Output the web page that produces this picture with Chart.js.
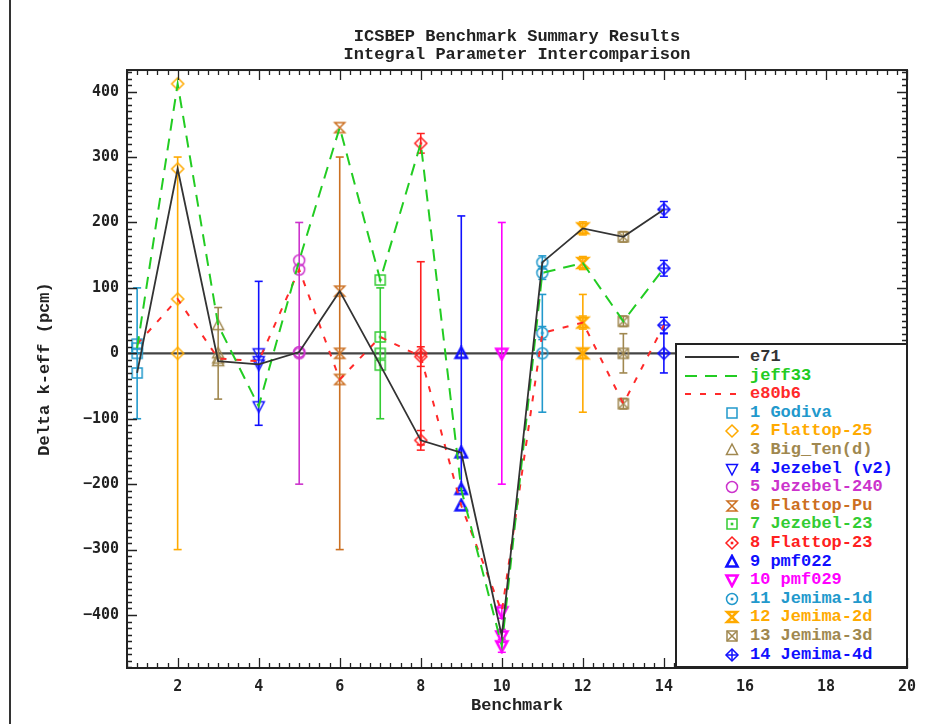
<!DOCTYPE html>
<html>
<head>
<meta charset="utf-8">
<title>ICSBEP Benchmark Summary Results</title>
<script src="https://cdn.jsdelivr.net/npm/chart.js"></script>
<style>
  html, body { margin: 0; padding: 0; background: #fff; }
  #wrap { position: relative; width: 947px; height: 724px; }
  #legend {
    position: absolute; left: 675px; top: 343px; width: 233px; height: 325px;
    box-sizing: border-box; border: 2px solid #222; background: #fff;
    font-family: 'Liberation Mono', monospace; font-weight: bold; font-size: 17px;
  }
  .row { position: absolute; left: 0; width: 100%; height: 18px; }
  .row span { position: absolute; left: 73px; top: 0; line-height: 18px; white-space: pre; }
  .row svg, .row canvas { position: absolute; }
</style>
</head>
<body>
<div id="wrap">
  <canvas id="chart" width="947" height="724"></canvas>
  <div id="legend"></div>
</div>
<script>
// benchmarks
const benchX = [1, 2, 3, 4, 5, 6, 7, 8, 9, 10, 11, 12, 13, 14];
const benchNames = ['Godiva', 'Flattop-25', 'Big_Ten(d)', 'Jezebel (v2)', 'Jezebel-240', 'Flattop-Pu',
  'Jezebel-23', 'Flattop-23', 'pmf022', 'pmf029', 'Jemima-1d', 'Jemima-2d', 'Jemima-3d', 'Jemima-4d'];
const benchColors = ['#2299cc', '#ffaa00', '#a08850', '#1010ff', '#cc33cc', '#cc7022', '#33cc33',
  '#ff2020', '#1010ff', '#ff00ff', '#2299cc', '#ffaa00', '#a08850', '#1010ff'];
const benchShapes = ['square', 'diamond', 'triangle', 'triangleDown', 'circle', 'hourglass', 'squareDot',
  'diamondDot', 'triangleBold', 'triangleDownBold', 'circleDot', 'hourglassBold', 'squareX', 'diamondPlus'];
const expErr = [100, 300, 70, 110, 200, 300, 100, 140, 210, 200, 90, 90, 30, 30];

// library results (pcm)
const libNames = ['e71', 'jeff33', 'e80b6'];
const libColors = ['#333333', '#22cc22', '#ff2a2a'];
const e71 = [-30, 282, -12, -17, 2, 95, -18, -133, -152, -432, 139, 191, 178, 220];
const jeff33 = [8, 412, 43, -81, 142, 345, 112, 321, -208, -447, 123, 138, 49, 130];
const e80b6 = [14, 83, -8, -12, 128, -40, 25, -5, -233, -395, 31, 47, -77, 43];
const libErr = [0, 0, 0, 0, 0, 0, 0, 15, 0, 10, 10, 10, 8, 12];

// axes
const xTicks = [2, 4, 6, 8, 10, 12, 14, 16, 18, 20];
const yTicks = [-400, -300, -200, -100, 0, 100, 200, 300, 400];
const X_MIN = 0.75, X_MAX = 20, Y_MIN = -481, Y_MAX = 433;

const TEXT_FONT = "'Liberation Mono', monospace";
const NUM_FONT = "'DejaVu Sans Mono', monospace";

function makeMarker(shape, color) {
  const c = document.createElement('canvas');
  c.width = 16; c.height = 16;
  const g = c.getContext('2d');
  g.strokeStyle = color; g.fillStyle = color;
  g.lineWidth = shape.endsWith('Bold') ? 2.6 : 1.5;
  g.translate(8, 8);
  const base = shape.replace('Bold', '').replace(/(Dot|X|Plus)$/, '');
  g.beginPath();
  if (base === 'square') g.rect(-5, -5, 10, 10);
  if (base === 'diamond') { g.moveTo(0, -6); g.lineTo(6, 0); g.lineTo(0, 6); g.lineTo(-6, 0); g.closePath(); }
  if (base === 'triangle') { g.moveTo(0, -6); g.lineTo(5.5, 4.5); g.lineTo(-5.5, 4.5); g.closePath(); }
  if (base === 'triangleDown') { g.moveTo(0, 6); g.lineTo(5.5, -4.5); g.lineTo(-5.5, -4.5); g.closePath(); }
  if (base === 'circle') g.arc(0, 0, 5.5, 0, Math.PI * 2);
  if (base === 'hourglass') { g.moveTo(-5, -5); g.lineTo(5, -5); g.lineTo(-5, 5); g.lineTo(5, 5); g.closePath(); }
  g.stroke();
  if (shape.endsWith('Dot')) g.fillRect(-1.3, -1.3, 2.6, 2.6);
  if (shape.endsWith('X')) { g.beginPath(); g.moveTo(-5, -5); g.lineTo(5, 5); g.moveTo(5, -5); g.lineTo(-5, 5); g.stroke(); }
  if (shape.endsWith('Plus')) { g.beginPath(); g.moveTo(0, -6); g.lineTo(0, 6); g.moveTo(-6, 0); g.lineTo(6, 0); g.stroke(); }
  return c;
}

const libValues = [e71, jeff33, e80b6];
const datasets = [];

// zero reference line
datasets.push({
  data: [{ x: X_MIN, y: 0 }, { x: X_MAX, y: 0 }],
  showLine: true, borderColor: '#444', borderWidth: 2.2, pointRadius: 0, order: 50
});

// experimental uncertainty bars
benchX.forEach((bx, i) => {
  datasets.push({
    data: [{ x: bx, y: -expErr[i] }, { x: bx, y: expErr[i] }],
    showLine: true, borderColor: benchColors[i], borderWidth: 1.6,
    pointStyle: 'line', pointRadius: 4, pointBorderColor: benchColors[i], pointBorderWidth: 1.6,
    order: 40
  });
});

// statistical bars on calculated values
benchX.forEach((bx, i) => {
  if (!libErr[i]) return;
  libValues.forEach(vals => {
    datasets.push({
      data: [{ x: bx, y: vals[i] - libErr[i] }, { x: bx, y: vals[i] + libErr[i] }],
      showLine: true, borderColor: benchColors[i], borderWidth: 1.5,
      pointStyle: 'line', pointRadius: 4, pointBorderColor: benchColors[i], pointBorderWidth: 1.5,
      order: 30
    });
  });
});

// markers: experiment (0) + each library
benchX.forEach((bx, i) => {
  datasets.push({
    data: [{ x: bx, y: 0 }, { x: bx, y: e71[i] }, { x: bx, y: jeff33[i] }, { x: bx, y: e80b6[i] }],
    pointStyle: makeMarker(benchShapes[i], benchColors[i]), pointRadius: 6, order: 20
  });
});

// library lines
const libDash = [[], [12, 8], [6, 9]];
libValues.forEach((vals, k) => {
  datasets.push({
    data: benchX.map((bx, i) => ({ x: bx, y: vals[i] })),
    showLine: true, borderColor: libColors[k], borderWidth: k === 0 ? 1.8 : 2,
    borderDash: libDash[k], pointRadius: 0, order: 10
  });
});

const frameTicks = {
  id: 'frameTicks',
  beforeDraw(chart) {
    const ctx = chart.ctx;
    ctx.save();
    ctx.strokeStyle = '#333'; ctx.lineWidth = 2;
    ctx.beginPath(); ctx.moveTo(10, 0); ctx.lineTo(10, chart.height); ctx.stroke();
    ctx.restore();
  },
  afterDatasetsDraw(chart) {
    const { ctx, chartArea: a, scales: { x, y } } = chart;
    ctx.save();
    ctx.strokeStyle = '#222'; ctx.lineWidth = 1.3;
    ctx.beginPath();
    for (let v = X_MIN; v <= X_MAX + 1e-6; v += 0.25) {
      const px = Math.round(x.getPixelForValue(v)) + 0.5;
      const len = Math.abs(v / 2 - Math.round(v / 2)) < 1e-6 ? 10 : 5;
      ctx.moveTo(px, a.bottom); ctx.lineTo(px, a.bottom - len);
      ctx.moveTo(px, a.top); ctx.lineTo(px, a.top + len);
    }
    for (let v = -480; v <= Y_MAX; v += 10) {
      const py = Math.round(y.getPixelForValue(v)) + 0.5;
      const len = v % 100 === 0 ? 10 : 5;
      ctx.moveTo(a.left, py); ctx.lineTo(a.left + len, py);
      ctx.moveTo(a.right, py); ctx.lineTo(a.right - len, py);
    }
    ctx.stroke();
    ctx.lineWidth = 2;
    ctx.strokeRect(a.left, a.top, a.right - a.left, a.bottom - a.top);
    ctx.restore();
  }
};

new Chart(document.getElementById('chart'), {
  type: 'scatter',
  data: { datasets },
  options: {
    responsive: false,
    animation: false,
    events: [],
    layout: { padding: { left: 0, right: 40, top: 0, bottom: 0 } },
    plugins: {
      legend: { display: false },
      tooltip: { enabled: false },
      title: {
        display: true,
        text: ['ICSBEP Benchmark Summary Results', 'Integral Parameter Intercomparison'],
        fullSize: false,
        color: '#222',
        font: { family: TEXT_FONT, size: 17, weight: 'bold', lineHeight: 1.06 },
        padding: { top: 28, bottom: 6 }
      }
    },
    scales: {
      x: {
        type: 'linear', min: X_MIN, max: X_MAX,
        afterBuildTicks: s => { s.ticks = xTicks.map(v => ({ value: v })); },
        afterFit: s => { s.height = 56; },
        grid: { display: false, drawTicks: false },
        border: { display: false },
        ticks: { color: '#222', padding: 10, maxRotation: 0, font: { family: NUM_FONT, size: 15, weight: 'bold' } },
        title: {
          display: true, text: 'Benchmark', color: '#222',
          font: { family: TEXT_FONT, size: 17, weight: 'bold', lineHeight: 1 },
          padding: { top: 0, bottom: 10 }
        }
      },
      y: {
        type: 'linear', min: Y_MIN, max: Y_MAX,
        afterBuildTicks: s => { s.ticks = yTicks.map(v => ({ value: v })); },
        afterFit: s => { s.width = 127; },
        grid: { display: false, drawTicks: false },
        border: { display: false },
        ticks: {
          color: '#222', padding: 8, font: { family: NUM_FONT, size: 15, weight: 'bold' },
          callback: v => String(v).replace('-', '\u2212')
        },
        title: {
          display: true, text: 'Delta k-eff (pcm)', color: '#222',
          font: { family: TEXT_FONT, size: 17, weight: 'bold', lineHeight: 1 },
          padding: { top: 36, bottom: 0 }
        }
      }
    }
  },
  plugins: [frameTicks]
});

// legend box
const legend = document.getElementById('legend');
const ROW_TOP = 3, ROW_STEP = 18.6;
libNames.forEach((name, k) => {
  const row = document.createElement('div');
  row.className = 'row';
  row.style.top = (ROW_TOP + k * ROW_STEP) + 'px';
  const dash = libDash[k].length ? ` stroke-dasharray="${libDash[k].join(' ')}"` : '';
  row.innerHTML = `<svg width="56" height="18" style="left:8px;top:0"><line x1="0" y1="9" x2="54" y2="9" stroke="${libColors[k]}" stroke-width="2"${dash}/></svg>` +
    `<span style="color:${libColors[k]}">${name}</span>`;
  legend.appendChild(row);
});
benchNames.forEach((name, i) => {
  const row = document.createElement('div');
  row.className = 'row';
  row.style.top = (ROW_TOP + (i + 3) * ROW_STEP) + 'px';
  const m = makeMarker(benchShapes[i], benchColors[i]);
  m.style.left = '47px'; m.style.top = '1px';
  row.appendChild(m);
  const s = document.createElement('span');
  s.style.color = benchColors[i];
  s.textContent = (i + 1) + ' ' + name;
  row.appendChild(s);
  legend.appendChild(row);
});
</script>
</body>
</html>
